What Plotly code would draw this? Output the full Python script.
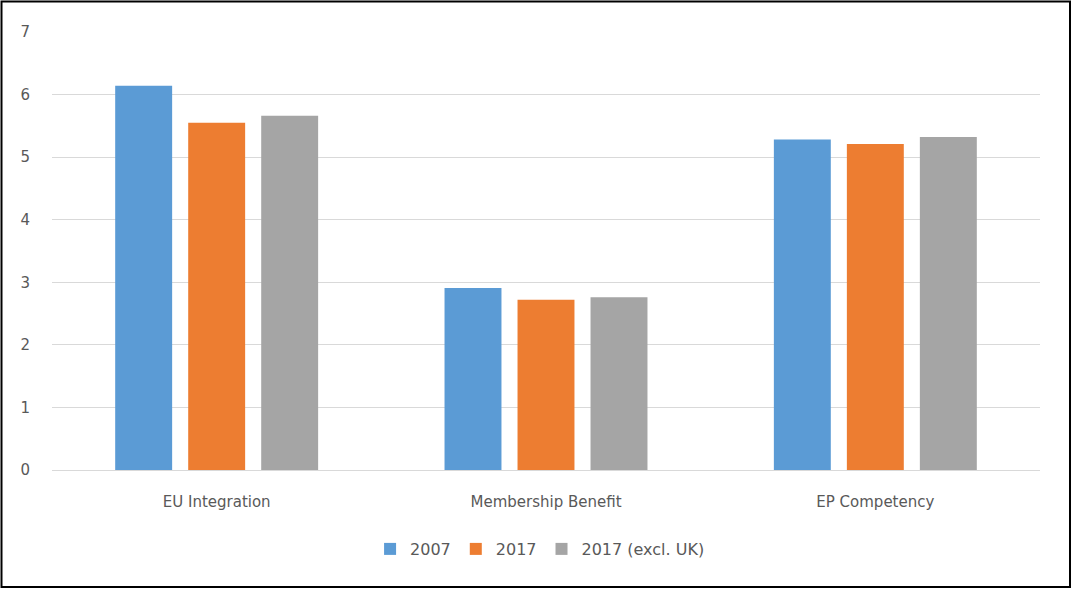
import plotly.graph_objects as go

categories = ["EU Integration", "Membership Benefit", "EP Competency"]
series_names = ["2007", "2017", "2017 (excl. UK)"]
values_2007 = [6.14, 2.91, 5.28]
values_2017 = [5.55, 2.72, 5.21]
values_2017_excl_uk = [5.66, 2.76, 5.32]
colors = ["#5B9BD5", "#ED7D31", "#A5A5A5"]
y_ticks = [0, 1, 2, 3, 4, 5, 6, 7]

W, H = 1072, 589
L, R, T, B = 52, 32, 32, 119

fig = go.Figure()
for name, vals, col in zip(series_names, [values_2007, values_2017, values_2017_excl_uk], colors):
    fig.add_trace(go.Bar(name=name, x=categories, y=vals, marker=dict(color=col, line=dict(width=0))))

pw = W - L - R
ph = H - T - B
def px_x(p):
    return (p - L) / pw
def px_y(p):
    return (H - B - p) / ph

font_family = "DejaVu Sans, Liberation Sans, sans-serif"
fig.update_layout(
    width=W, height=H,
    margin=dict(l=L, r=R, t=T, b=B),
    paper_bgcolor="white", plot_bgcolor="white",
    barmode="group", bargap=0.335, bargroupgap=0.22,
    font=dict(family=font_family, size=15, color="#595959"),
    showlegend=True,
    legend=dict(orientation="h", x=0.494, xanchor="center", y=px_y(549), yanchor="middle",
                font=dict(size=16, color="#595959"), itemwidth=30, tracegroupgap=0),
    xaxis=dict(showgrid=False, showline=False, zeroline=False, ticks="outside", ticklen=18,
               tickcolor="rgba(0,0,0,0)", tickfont=dict(size=15, color="#595959")),
    yaxis=dict(range=[0, 7], tickvals=y_ticks, showgrid=True, gridcolor="#D9D9D9", gridwidth=1,
               zeroline=True, zerolinecolor="#D9D9D9", zerolinewidth=1, showline=False,
               ticks="outside", ticklen=18, tickcolor="rgba(0,0,0,0)",
               tickfont=dict(size=15, color="#595959")),
    shapes=[dict(type="rect", xref="paper", yref="paper",
                 x0=px_x(1.5), x1=px_x(1070), y0=px_y(587), y1=px_y(1.5),
                 line=dict(color="black", width=2), fillcolor="rgba(0,0,0,0)", layer="above")],
)

fig.write_html("out.html", config={"displayModeBar": False},
               post_script="document.body.style.margin='0';document.body.style.overflow='hidden';")
